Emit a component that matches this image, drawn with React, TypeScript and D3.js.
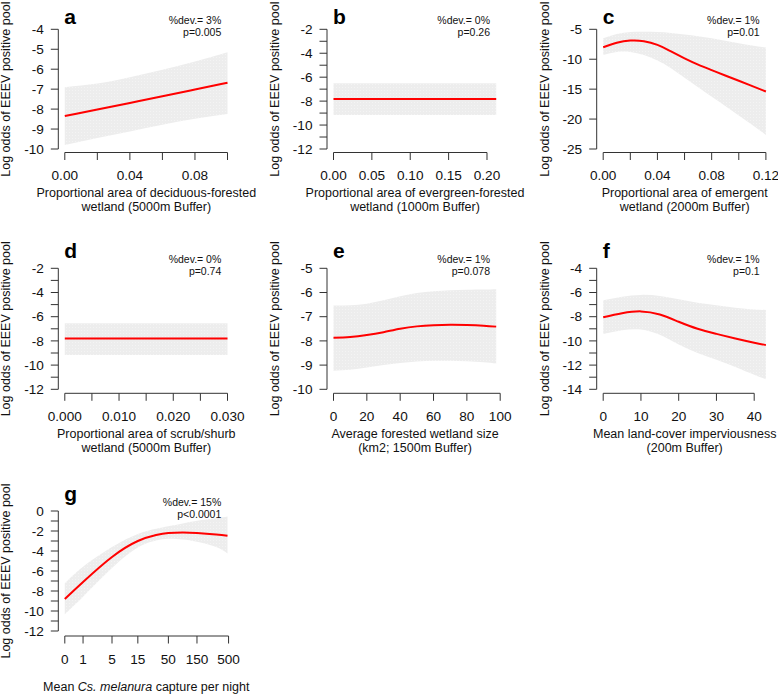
import React from 'react';
import * as d3 from 'd3';

// ---------- data ----------
const panelLetters = ['a', 'b', 'c', 'd', 'e', 'f', 'g'];
const devTexts = ['%dev.= 3%', '%dev.= 0%', '%dev.= 1%', '%dev.= 0%', '%dev.= 1%', '%dev.= 1%', '%dev.= 15%'];
const pTexts = ['p=0.005', 'p=0.26', 'p=0.01', 'p=0.74', 'p=0.078', 'p=0.1', 'p<0.0001'];
const xLabels1 = [
  'Proportional area of deciduous-forested',
  'Proportional area of evergreen-forested',
  'Proportional area of emergent',
  'Proportional area of scrub/shurb',
  'Average forested wetland size',
  'Mean land-cover imperviousness',
];
const xLabels2 = [
  'wetland (5000m Buffer)',
  'wetland (1000m Buffer)',
  'wetland (2000m Buffer)',
  'wetland (5000m Buffer)',
  '(km2; 1500m Buffer)',
  '(200m Buffer)',
];
const yLabel = 'Log odds of EEEV positive pool';

const aX = [0, 0.02, 0.04, 0.06, 0.08, 0.1];
const aFit = [-8.35, -8.02, -7.69, -7.36, -7.02, -6.68];
const aUpper = [-6.9, -6.72, -6.4, -6.03, -5.62, -5.15];
const aLower = [-9.8, -9.45, -9.12, -8.78, -8.48, -8.24];
const aXTicks = [0, 0.02, 0.04, 0.06, 0.08, 0.1];
const aXLabels = ['0.00', '', '0.04', '', '0.08', ''];
const aYTicks = [-4, -5, -6, -7, -8, -9, -10];
const aYLabels = ['-4', '-5', '-6', '-7', '-8', '-9', '-10'];

const bX = [0, 0.212];
const bFit = [-7.83, -7.83];
const bUpper = [-6.51, -6.51];
const bLower = [-9.16, -9.16];
const bXTicks = [0, 0.05, 0.1, 0.15, 0.2];
const bXLabels = ['0.00', '0.05', '0.10', '0.15', '0.20'];
const bYTicks = [-2, -3, -4, -5, -6, -7, -8, -9, -10, -11, -12];
const bYLabels = ['-2', '', '-4', '', '-6', '', '-8', '', '-10', '', '-12'];

const cX = [0, 0.01, 0.02, 0.03, 0.04, 0.05, 0.06, 0.07, 0.08, 0.09, 0.1, 0.11, 0.12];
const cFit = [-8.0, -7.25, -6.88, -6.98, -7.6, -8.7, -9.85, -10.9, -11.82, -12.72, -13.6, -14.5, -15.4];
const cUpper = [-6.5, -5.8, -5.45, -5.4, -5.45, -5.6, -5.85, -6.15, -6.5, -6.9, -7.32, -7.7, -8.06];
const cLower = [-9.3, -8.8, -8.8, -9.3, -10.2, -11.5, -13.1, -14.7, -16.25, -17.8, -19.4, -21.0, -22.66];
const cXTicks = [0, 0.02, 0.04, 0.06, 0.08, 0.1, 0.12];
const cXLabels = ['0.00', '', '0.04', '', '0.08', '', '0.12'];
const cYTicks = [-5, -10, -15, -20, -25];
const cYLabels = ['-5', '-10', '-15', '-20', '-25'];

const dX = [0, 0.03];
const dFit = [-7.8, -7.8];
const dUpper = [-6.55, -6.55];
const dLower = [-9.17, -9.17];
const dXTicks = [0, 0.005, 0.01, 0.015, 0.02, 0.025, 0.03];
const dXLabels = ['0.000', '', '0.010', '', '0.020', '', '0.030'];
const dYTicks = [-2, -3, -4, -5, -6, -7, -8, -9, -10, -11, -12];
const dYLabels = ['-2', '', '-4', '', '-6', '', '-8', '', '-10', '', '-12'];

const eX = [0, 10, 20, 30, 40, 50, 60, 70, 80, 90, 97.6];
const eFit = [-7.87, -7.84, -7.76, -7.64, -7.5, -7.4, -7.35, -7.33, -7.34, -7.37, -7.41];
const eUpper = [-6.54, -6.53, -6.46, -6.32, -6.15, -6.02, -5.95, -5.91, -5.89, -5.88, -5.87];
const eLower = [-9.23, -9.19, -9.1, -9.0, -8.91, -8.85, -8.82, -8.82, -8.84, -8.88, -8.93];
const eXTicks = [0, 20, 40, 60, 80, 100];
const eXLabels = ['0', '20', '40', '60', '80', '100'];
const eYTicks = [-5, -6, -7, -8, -9, -10];
const eYLabels = ['-5', '-6', '-7', '-8', '-9', '-10'];

const fX = [0, 5, 10, 15, 20, 25, 30, 35, 40, 43.1];
const fFit = [-8.05, -7.72, -7.56, -7.82, -8.42, -9.0, -9.42, -9.8, -10.15, -10.35];
const fUpper = [-6.64, -6.35, -6.2, -6.28, -6.56, -6.85, -7.06, -7.25, -7.4, -7.44];
const fLower = [-9.42, -9.12, -9.06, -9.5, -10.3, -11.0, -11.56, -12.15, -12.8, -13.17];
const fXTicks = [0, 10, 20, 30, 40];
const fXLabels = ['0', '10', '20', '30', '40'];
const fYTicks = [-4, -5, -6, -7, -8, -9, -10, -11, -12, -13, -14];
const fYLabels = ['-4', '', '-6', '', '-8', '', '-10', '', '-12', '', '-14'];

const gX = [0, 1, 5, 15, 31, 50, 87, 150, 311, 480];
const gFit = [-8.8, -7.1, -4.6, -3.0, -2.4, -2.2, -2.15, -2.2, -2.35, -2.47];
const gUpper = [-7.23, -5.57, -3.6, -2.3, -1.78, -1.52, -1.25, -0.98, -0.73, -0.55];
const gLower = [-10.33, -8.57, -5.7, -3.65, -2.95, -2.78, -2.85, -3.07, -3.6, -4.25];
const gXTicks = [0, 1, 5, 15, 50, 150, 500];
const gXLabels = ['0', '1', '5', '15', '50', '150', '500'];
const gYTicks = [0, -1, -2, -3, -4, -5, -6, -7, -8, -9, -10, -11, -12];
const gYLabels = ['0', '', '-2', '', '-4', '', '-6', '', '-8', '', '-10', '', '-12'];

// ---------- layout ----------
const W = 778;
const H = 695;
const FONT = "'Liberation Sans', Arial, Helvetica, sans-serif";
const colAxisX = [58.3, 327, 596.7];
const rowTop = [29.3, 268.3, 511];
const rowBottom = [149, 389.3, 631];
const rowXAxis = [152.5, 393.3, 636];
const dataOffset = 6.5;
const dataWidth = 162.7;

type PanelDef = {
  xs: number[]; fit: number[]; up: number[]; lo: number[];
  xTicks: number[]; xLabels: string[]; yTicks: number[]; yLabels: string[];
  log?: boolean;
};

const defs: PanelDef[] = [
  { xs: aX, fit: aFit, up: aUpper, lo: aLower, xTicks: aXTicks, xLabels: aXLabels, yTicks: aYTicks, yLabels: aYLabels },
  { xs: bX, fit: bFit, up: bUpper, lo: bLower, xTicks: bXTicks, xLabels: bXLabels, yTicks: bYTicks, yLabels: bYLabels },
  { xs: cX, fit: cFit, up: cUpper, lo: cLower, xTicks: cXTicks, xLabels: cXLabels, yTicks: cYTicks, yLabels: cYLabels },
  { xs: dX, fit: dFit, up: dUpper, lo: dLower, xTicks: dXTicks, xLabels: dXLabels, yTicks: dYTicks, yLabels: dYLabels },
  { xs: eX, fit: eFit, up: eUpper, lo: eLower, xTicks: eXTicks, xLabels: eXLabels, yTicks: eYTicks, yLabels: eYLabels },
  { xs: fX, fit: fFit, up: fUpper, lo: fLower, xTicks: fXTicks, xLabels: fXLabels, yTicks: fYTicks, yLabels: fYLabels },
  { xs: gX, fit: gFit, up: gUpper, lo: gLower, xTicks: gXTicks, xLabels: gXLabels, yTicks: gYTicks, yLabels: gYLabels, log: true },
];

const AXIS = '#333';
const TICKFS = 13.6;

function Panel({ def, idx }: { def: PanelDef; idx: number }) {
  const col = idx % 3;
  const row = Math.floor(idx / 3);
  const ax = colAxisX[col];
  const top = rowTop[row];
  const bottom = rowBottom[row];
  const xAxisY = rowXAxis[row];
  const x0 = ax + dataOffset;
  const xMax = d3.max(def.xs) as number;
  const x = def.log
    ? d3.scaleSymlog().constant(1).domain([0, xMax]).range([x0, x0 + dataWidth])
    : d3.scaleLinear().domain([0, xMax]).range([x0, x0 + dataWidth]);
  const yMin = d3.min(def.yTicks) as number;
  const yMax = d3.max(def.yTicks) as number;
  const y = d3.scaleLinear().domain([yMin, yMax]).range([bottom, top]);

  const pts = def.xs.map((v, i) => ({ x: v, f: def.fit[i], u: def.up[i], l: def.lo[i] }));
  const curve = d3.curveNatural;
  const upper = d3.line<any>().x((d) => x(d.x)).y((d) => y(d.u)).curve(curve)(pts) || '';
  const lowerRev = d3.line<any>().x((d) => x(d.x)).y((d) => y(d.l)).curve(curve)(pts.slice().reverse()) || '';
  const bandPath = upper + 'L' + lowerRev.slice(1) + 'Z';
  const line = d3.line<any>().x((d) => x(d.x)).y((d) => y(d.f)).curve(curve);

  const xt0 = x(def.xTicks[0]);
  const xt1 = x(def.xTicks[def.xTicks.length - 1]);
  const yt0 = y(yMax);
  const yt1 = y(yMin);
  const rightEdge = ax + 163;
  const yLabelX = ax - 48;
  const midY = (top + bottom) / 2;
  const midX = ax + 88;

  return (
    <g>
      <path d={bandPath} fill="url(#dots)" stroke="none" />
      <path d={line(pts) || ''} fill="none" stroke="#ff0000" strokeWidth={2} />
      {/* y axis */}
      <line x1={ax} x2={ax} y1={yt0} y2={yt1} stroke={AXIS} strokeWidth={1} />
      {def.yTicks.map((t, i) => (
        <g key={'yt' + i}>
          <line x1={ax - 7.5} x2={ax} y1={y(t)} y2={y(t)} stroke={AXIS} strokeWidth={1} />
          {def.yLabels[i] ? (
            <text x={ax - 14.5} y={y(t)} dy="0.35em" textAnchor="end" fontSize={TICKFS} fill="#111">
              {def.yLabels[i]}
            </text>
          ) : null}
        </g>
      ))}
      {/* x axis */}
      <line x1={xt0} x2={xt1} y1={xAxisY} y2={xAxisY} stroke={AXIS} strokeWidth={1} />
      {def.xTicks.map((t, i) => (
        <g key={'xt' + i}>
          <line x1={x(t)} x2={x(t)} y1={xAxisY} y2={xAxisY + 7.5} stroke={AXIS} strokeWidth={1} />
          {def.xLabels[i] ? (
            <text x={x(t)} y={xAxisY + 27.5} textAnchor="middle" fontSize={TICKFS} fill="#111">
              {def.xLabels[i]}
            </text>
          ) : null}
        </g>
      ))}
      {/* y label */}
      <text
        transform={`translate(${yLabelX},${midY}) rotate(-90)`}
        textAnchor="middle"
        fontSize={12.5}
        fill="#111"
      >
        {yLabel}
      </text>
      {/* x label */}
      {idx < 6 ? (
        <g>
          <text x={midX} y={xAxisY + 44.8} textAnchor="middle" fontSize={12.5} fill="#111">
            {xLabels1[idx]}
          </text>
          <text x={midX} y={xAxisY + 58.7} textAnchor="middle" fontSize={12.5} fill="#111">
            {xLabels2[idx]}
          </text>
        </g>
      ) : (
        <text x={midX} y={xAxisY + 54.7} textAnchor="middle" fontSize={12.5} fill="#111">
          Mean <tspan fontStyle="italic">Cs. melanura</tspan> capture per night
        </text>
      )}
      {/* panel letter */}
      <text x={ax + 6} y={row === 0 ? 24 : top - 10} fontSize={21} fontWeight="bold" fill="#000">
        {panelLetters[idx]}
      </text>
      {/* stats */}
      <text x={rightEdge} y={top - 5} textAnchor="end" fontSize={10.5} fill="#111">
        {devTexts[idx]}
      </text>
      <text x={rightEdge} y={top + 7} textAnchor="end" fontSize={10.5} fill="#111">
        {pTexts[idx]}
      </text>
    </g>
  );
}

export default function App() {
  return (
    <svg
      width={W}
      height={H}
      viewBox={`0 0 ${W} ${H}`}
      style={{ position: 'absolute', left: 0, top: 0, display: 'block', background: '#fff' }}
      fontFamily={FONT}
    >
      <defs>
        <pattern id="dots" width={3} height={3} patternUnits="userSpaceOnUse">
          <rect width={3} height={3} fill="#ededed" />
          <rect width={1} height={1} fill="#f4f4f4" />
        </pattern>
      </defs>
      <rect width={W} height={H} fill="#fff" />
      {defs.map((d, i) => (
        <Panel key={i} def={d} idx={i} />
      ))}
    </svg>
  );
}
